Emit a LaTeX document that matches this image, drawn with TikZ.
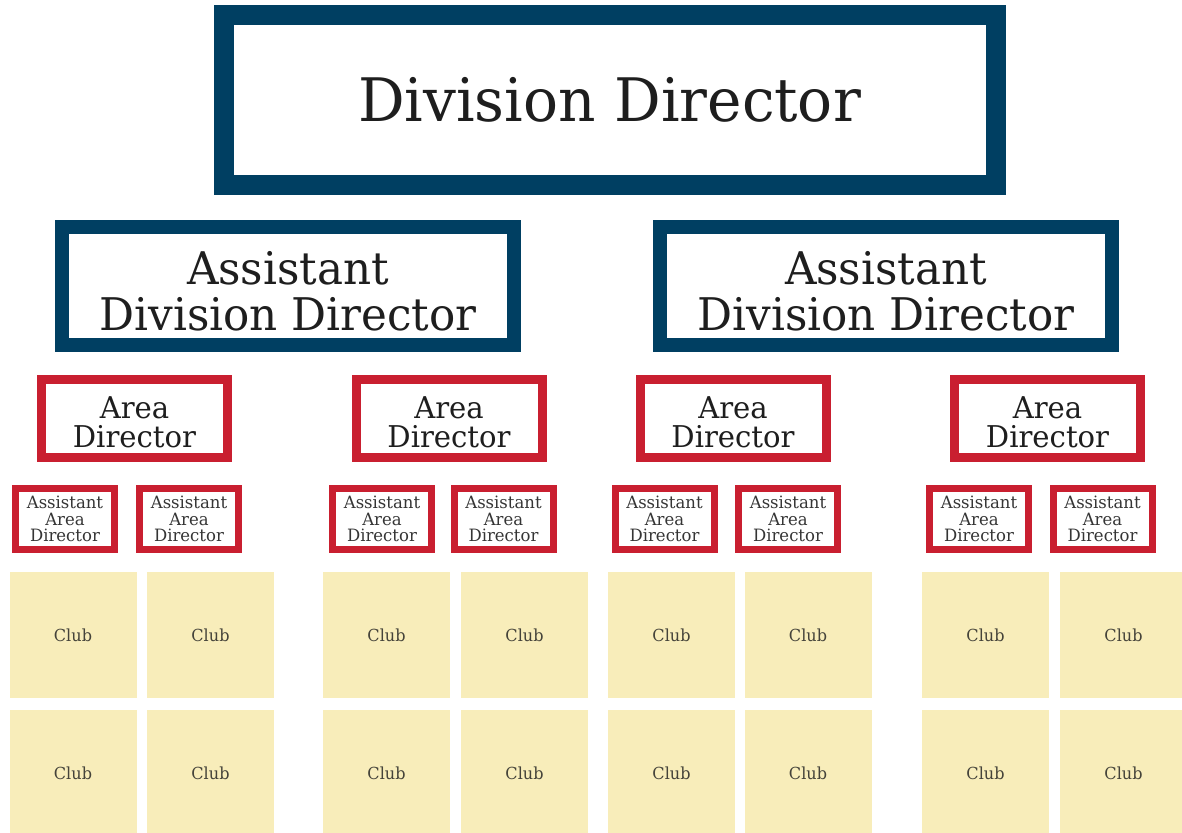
\documentclass[tikz,border=0pt]{standalone}
\usepackage{fontspec}
\setmainfont{DejaVu Serif}[FakeStretch=0.97]
\usepackage{xcolor}
\usepackage{tikz}

\definecolor{navy}{HTML}{003F62}
\definecolor{crimson}{HTML}{C91F30}
\definecolor{sand}{HTML}{F8EDBA}
\definecolor{ink}{HTML}{1E1E1E}
\definecolor{clubink}{HTML}{45433A}

\begin{document}
\begin{tikzpicture}[x=0.5pt,y=-0.5pt]
\tikzstyle{division}=[draw=navy, line width=10pt, minimum width=386pt, minimum height=85pt, inner sep=0pt, text=ink, font=\fontsize{30}{30}\selectfont]
\tikzstyle{assistdiv}=[draw=navy, line width=7pt, minimum width=226pt, minimum height=59pt, inner sep=0pt, align=center, text=ink, text height=45pt, font=\fontsize{22.5}{23}\selectfont]
\tikzstyle{area}=[draw=crimson, line width=4.5pt, minimum width=93pt, minimum height=39pt, inner sep=0pt, align=center, text=ink, text height=29.5pt, font=\fontsize{15}{14.5}\selectfont]
\tikzstyle{assistarea}=[draw=crimson, line width=3.5pt, minimum width=49.5pt, minimum height=30.5pt, inner sep=0pt, align=center, text=ink!90, font=\fontsize{8.5}{8.3}\selectfont]
\tikzstyle{club}=[fill=sand, minimum width=63.5pt, minimum height=63pt, inner sep=0pt, text=clubink, font=\fontsize{8.3}{8.3}\selectfont]
\useasboundingbox (0,0) rectangle (1182,833);

\node[division] (dd) at (609.5,100) {Division Director};

\node[assistdiv] (add1) at (288,286) {Assistant\\Division Director};
\node[assistdiv] (add2) at (886,286) {Assistant\\Division Director};

\node[area] (ad1) at (134.5,418.5) {Area\\Director};
\node[area] (ad2) at (449,418.5) {Area\\Director};
\node[area] (ad3) at (733,418.5) {Area\\Director};
\node[area] (ad4) at (1047.5,418.5) {Area\\Director};

\node[assistarea] (aad1) at (65,519) {Assistant\\Area\\Director};
\node[assistarea] (aad2) at (189,519) {Assistant\\Area\\Director};
\node[assistarea] (aad3) at (382,519) {Assistant\\Area\\Director};
\node[assistarea] (aad4) at (503.5,519) {Assistant\\Area\\Director};
\node[assistarea] (aad5) at (664.5,519) {Assistant\\Area\\Director};
\node[assistarea] (aad6) at (788,519) {Assistant\\Area\\Director};
\node[assistarea] (aad7) at (979,519) {Assistant\\Area\\Director};
\node[assistarea] (aad8) at (1102.5,519) {Assistant\\Area\\Director};

\node[club] (c1a) at (73,635) {Club};
\node[club] (c2a) at (210.5,635) {Club};
\node[club] (c3a) at (386.5,635) {Club};
\node[club] (c4a) at (524.5,635) {Club};
\node[club] (c5a) at (671.5,635) {Club};
\node[club] (c6a) at (808,635) {Club};
\node[club] (c7a) at (985.5,635) {Club};
\node[club] (c8a) at (1123.5,635) {Club};

\node[club] (c1b) at (73,773) {Club};
\node[club] (c2b) at (210.5,773) {Club};
\node[club] (c3b) at (386.5,773) {Club};
\node[club] (c4b) at (524.5,773) {Club};
\node[club] (c5b) at (671.5,773) {Club};
\node[club] (c6b) at (808,773) {Club};
\node[club] (c7b) at (985.5,773) {Club};
\node[club] (c8b) at (1123.5,773) {Club};
\end{tikzpicture}
\end{document}
